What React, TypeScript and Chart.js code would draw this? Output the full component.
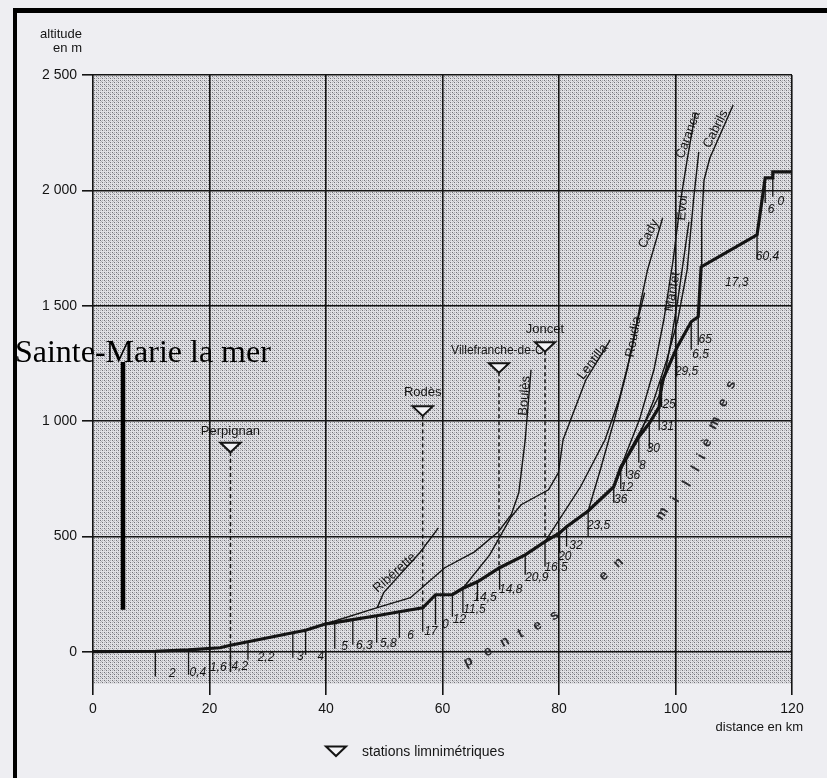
import React, { useEffect, useRef } from "react";
import { Chart, registerables } from "chart.js";

Chart.register(...registerables);

const FONT = "'Liberation Sans', Arial, Helvetica, sans-serif";
const SERIF = "'Liberation Serif', 'Times New Roman', serif";
const INK = "#141414";
const PAPER = "#eeeef2";

// ---- axes ----
const xTicks = [0, 20, 40, 60, 80, 100, 120];
const yTicks = [0, 500, 1000, 1500, 2000, 2500];

// ---- Têt main profile (km from the sea, altitude m) ----
const tetKm = [0, 10.7, 16.4, 21.8, 23.6, 26.6, 34.3, 36.5, 40, 41.5, 44.6, 48.7, 52.6, 56.6, 58.8, 61.7, 63.5, 66, 69.8, 74.2, 77.6, 80.1, 81.3, 85, 89.4, 90.6, 91.6, 93.7, 95.5, 97.2, 97.6, 100.2, 102.7, 103.9, 104.4, 114, 115.4, 116.7, 116.7, 120];
const tetAlt = [0, 2, 8, 17, 28, 43, 82, 93, 121, 126, 139, 156, 173, 190, 247, 247, 275, 303, 364, 420, 477, 515, 542, 610, 715, 800, 840, 931, 990, 1061, 1166, 1317, 1430, 1452, 1668, 1807, 2054, 2054, 2080, 2080];

// ---- tributaries ----
const riberetteKm = [48.8, 49.9, 56.1, 59.3];
const riberetteAlt = [191, 256, 429, 537];
const boulesKm = [40, 48.8, 54.5, 59.4, 60.4, 65.5, 69.6, 71.8, 73.1, 74.2, 75.2];
const boulesAlt = [121, 191, 234, 342, 364, 433, 520, 594, 689, 919, 1222];
const lentillaKm = [63.5, 68.1, 71.8, 73.5, 78.2, 79.9, 80.7, 84.6, 88.8];
const lentillaAlt = [275, 420, 585, 637, 702, 776, 919, 1178, 1352];
const cadyKm = [77.6, 83.7, 87.9, 90.3, 92.5, 94.1, 95.2, 97.8];
const cadyAlt = [477, 715, 919, 1092, 1309, 1525, 1655, 1881];
const roudiaKm = [85, 87.1, 89.5, 91.7, 93.1, 94.7];
const roudiaAlt = [610, 789, 1005, 1222, 1395, 1556];
const mantetKm = [89.4, 92.2, 95.5, 97.7, 99.1, 100.4, 101.5, 102.3];
const mantetAlt = [715, 875, 1027, 1135, 1330, 1525, 1720, 1863];
const evolKm = [93.7, 96.3, 98.5, 100.4, 102.0, 103.1, 104.0];
const evolAlt = [931, 1092, 1265, 1439, 1655, 1959, 2167];
const carancaKm = [90.6, 93.8, 96.3, 98.0, 99.6, 100.9, 102.0, 103.4];
const carancaAlt = [800, 1005, 1222, 1439, 1699, 1959, 2132, 2335];
const cabrilsKm = [104.4, 104.5, 104.9, 105.9, 109.9];
const cabrilsAlt = [1668, 1872, 2045, 2140, 2370];

// ---- segment limits (hanging ticks) ----
const dropKm = [10.7, 16.4, 23.6, 26.6, 34.3, 36.5, 41.5, 44.6, 48.7, 52.6, 56.6, 58.8, 61.7, 63.5, 66, 69.8, 74.2, 77.6, 80.1, 81.3, 85, 89.4, 90.6, 91.6, 93.7, 95.5, 97.2, 97.6, 100.2, 102.7, 103.9, 114, 115.4, 116.7];
const dropTop = [2, 8, 28, 43, 82, 93, 126, 139, 156, 173, 190, 247, 247, 275, 303, 364, 420, 477, 515, 542, 610, 715, 800, 840, 931, 990, 1061, 1166, 1317, 1430, 1452, 1807, 2054, 2080];
const dropBottom = [-108, -100, -87, -35, -26, -13, 13, 30, 39, 61, 87, 117, 152, 169, 225, 269, 334, 368, 429, 455, 498, 646, 705, 760, 819, 880, 960, 1061, 1192, 1309, 1330, 1700, 1945, 1972];

// ---- slopes (per mille) ----
const slopeText = ["2", "0,4", "1,6", "4,2", "2,2", "3", "4", "5", "6,3", "5,8", "6", "17", "0", "12", "11,5", "14,5", "14,8", "20,9", "16,5", "20", "32", "23,5", "36", "12", "36", "8", "30", "31", "25", "29,5", "6,5", "65", "17,3", "60,4", "6", "0"];
const slopeKm = [13.6, 18.0, 21.5, 25.2, 29.7, 35.6, 39.1, 43.2, 46.6, 50.7, 54.5, 58.0, 60.5, 62.9, 65.5, 67.3, 71.7, 76.2, 79.5, 81.0, 82.9, 86.8, 90.6, 91.6, 92.8, 94.3, 96.2, 98.6, 98.9, 101.9, 104.3, 105.1, 110.5, 115.8, 116.4, 118.1];
const slopeAlt = [-95, -91, -70, -65, -26, -20, -22, 22, 26, 35, 69, 87, 117, 139, 182, 234, 269, 321, 364, 412, 459, 546, 658, 710, 763, 805, 880, 975, 1070, 1213, 1287, 1352, 1600, 1711, 1915, 1950];

// ---- gauging stations ----
const stationNames = ["Perpignan", "Rodès", "Villefranche-de-C.", "Joncet"];
const stationKm = [23.6, 56.6, 69.7, 77.6];
const stationAlt = [886, 1044, 1231, 1322];
const stationLabelAlt = [953, 1122, 1304, 1395];
const stationBase = [-87, 190, 364, 477];

// ---- river names ----
const tribNames = ["Ribérette", "Boulès", "Lentilla", "Roudia", "Cady", "Mantet", "Evol", "Caranca", "Cabrils"];
const tribLabelKm = [51.8, 74.1, 85.8, 92.8, 95.4, 99.5, 101.2, 102.2, 106.9];
const tribLabelAlt = [342, 1109, 1257, 1365, 1811, 1560, 1924, 2240, 2266];
const tribLabelAngle = [-42, -85, -52, -80, -63, -80, -85, -70, -63];

// ---- "pentes en millièmes" ----
const penteLetters = ["p", "e", "n", "t", "e", "s", "e", "n", "m", "i", "l", "l", "i", "è", "m", "e", "s"];
const penteKm = [64.4, 67.8, 70.7, 73.4, 76.3, 79.2, 87.7, 90.2, 97.7, 100.0, 102.0, 103.5, 104.5, 105.4, 106.7, 108.2, 109.5];
const penteAlt = [-43, 0, 43, 78, 113, 156, 329, 386, 598, 659, 728, 793, 845, 906, 992, 1079, 1157];
const penteAngle = [-25, -25, -28, -28, -30, -32, -40, -42, -58, -60, -60, -60, -62, -62, -62, -64, -64];

// ---- Sainte-Marie marker ----
const markerText = "Sainte-Marie la mer";
const markerTextKm = -13.4;
const markerTextAlt = 1256;
const markerBarKm = 5.15;
const markerBarTop = 1256;
const markerBarBottom = 182;

const pts = (xs: number[], ys: number[]) => xs.map((x, i) => ({ x, y: ys[i] }));

function makeStipple(ctx: CanvasRenderingContext2D) {
  const c = document.createElement("canvas");
  c.width = 4;
  c.height = 4;
  const g = c.getContext("2d")!;
  g.fillStyle = "#e0e0e4";
  g.fillRect(0, 0, 4, 4);
  g.fillStyle = "#727278";
  g.fillRect(0, 0, 1, 1);
  g.fillRect(2, 2, 1, 1);
  g.fillStyle = "#b2b2b7";
  g.fillRect(2, 0, 1, 1);
  g.fillRect(0, 2, 1, 1);
  g.fillRect(1, 1, 1, 1);
  return ctx.createPattern(c, "repeat");
}

function drawTriangle(ctx: CanvasRenderingContext2D, cx: number, cy: number) {
  ctx.beginPath();
  ctx.moveTo(cx - 10, cy - 4.5);
  ctx.lineTo(cx + 10, cy - 4.5);
  ctx.lineTo(cx, cy + 5);
  ctx.closePath();
  ctx.fillStyle = "#f3f3f6";
  ctx.fill();
  ctx.lineWidth = 2;
  ctx.strokeStyle = INK;
  ctx.stroke();
}

function rotText(ctx: CanvasRenderingContext2D, t: string, x: number, y: number, deg: number) {
  ctx.save();
  ctx.translate(x, y);
  ctx.rotate((deg * Math.PI) / 180);
  ctx.fillText(t, 0, 0);
  ctx.restore();
}

const paperPlugin = {
  id: "paper",
  beforeDraw(chart: any) {
    const { ctx, chartArea: a } = chart;
    ctx.save();
    ctx.fillStyle = PAPER;
    ctx.fillRect(0, 0, chart.width, chart.height);
    const pat = makeStipple(ctx);
    if (pat) {
      ctx.fillStyle = pat;
      ctx.fillRect(a.left, a.top, a.right - a.left, a.bottom - a.top);
    }
    ctx.restore();
  },
  afterDatasetsDraw(chart: any) {
    const { ctx } = chart;
    const xs = chart.scales.x;
    const ys = chart.scales.y;
    const X = (v: number) => xs.getPixelForValue(v);
    const Y = (v: number) => ys.getPixelForValue(v);
    ctx.save();
    ctx.fillStyle = INK;
    ctx.textAlign = "center";
    ctx.textBaseline = "middle";

    // stations
    stationNames.forEach((name, i) => {
      drawTriangle(ctx, X(stationKm[i]), Y(stationAlt[i]));
      ctx.fillStyle = INK;
      ctx.font = `${name.length > 10 ? 12 : 13}px ${FONT}`;
      ctx.fillText(name, X(stationKm[i]), Y(stationLabelAlt[i]));
    });

    // slopes
    ctx.font = `italic 12px ${FONT}`;
    slopeText.forEach((t, i) => ctx.fillText(t, X(slopeKm[i]), Y(slopeAlt[i])));

    // river names
    ctx.font = `13px ${FONT}`;
    tribNames.forEach((t, i) => rotText(ctx, t, X(tribLabelKm[i]), Y(tribLabelAlt[i]), tribLabelAngle[i]));

    // pentes en millièmes
    ctx.font = `bold 14px ${FONT}`;
    ctx.fillStyle = "#2a2a2e";
    penteLetters.forEach((t, i) => rotText(ctx, t, X(penteKm[i]), Y(penteAlt[i]), penteAngle[i]));
    ctx.restore();
  },
  afterDraw(chart: any) {
    const { ctx, chartArea: a } = chart;
    const xs = chart.scales.x;
    const ys = chart.scales.y;
    const X = (v: number) => xs.getPixelForValue(v);
    const Y = (v: number) => ys.getPixelForValue(v);
    ctx.save();
    // axis titles
    ctx.fillStyle = INK;
    ctx.font = `13px ${FONT}`;
    ctx.textAlign = "right";
    ctx.textBaseline = "middle";
    ctx.fillText("altitude", a.left - 11, a.top - 41);
    ctx.fillText("en m", a.left - 11, a.top - 27);
    ctx.fillText("distance en km", a.right + 11, a.bottom + 43);

    // legend
    drawTriangle(ctx, a.left + 243, a.bottom + 67);
    ctx.fillStyle = INK;
    ctx.font = `14px ${FONT}`;
    ctx.textAlign = "left";
    ctx.fillText("stations limnimétriques", a.left + 269, a.bottom + 68);

    // Sainte-Marie marker
    ctx.strokeStyle = "#000";
    ctx.lineWidth = 4.5;
    ctx.beginPath();
    ctx.moveTo(X(markerBarKm), Y(markerBarTop));
    ctx.lineTo(X(markerBarKm), Y(markerBarBottom));
    ctx.stroke();
    ctx.fillStyle = "#000";
    ctx.font = `32px ${SERIF}`;
    ctx.textAlign = "left";
    ctx.textBaseline = "alphabetic";
    ctx.fillText(markerText, X(markerTextKm), Y(markerTextAlt));

    // scan frame
    ctx.fillStyle = "#000";
    ctx.fillRect(13, 8, chart.width - 13, 5);
    ctx.fillRect(13, 8, 4, chart.height - 8);
    ctx.restore();
  },
};

export default function App() {
  const ref = useRef<HTMLCanvasElement>(null);
  useEffect(() => {
    const canvas = ref.current;
    if (!canvas) return;

    const dropData: any[] = [];
    dropKm.forEach((k, i) => {
      dropData.push({ x: k, y: dropTop[i] }, { x: k, y: dropBottom[i] }, { x: k, y: null });
    });
    const dashData: any[] = [];
    stationKm.forEach((k, i) => {
      dashData.push({ x: k, y: stationAlt[i] - 20 }, { x: k, y: stationBase[i] }, { x: k, y: null });
    });

    const thin = (data: any[]) => ({
      data,
      showLine: true,
      borderColor: INK,
      borderWidth: 1.4,
      pointRadius: 0,
      tension: 0,
      spanGaps: false,
    });

    const chart = new Chart(canvas, {
      type: "scatter",
      data: {
        datasets: [
          { ...thin(dropData), borderWidth: 1.3 },
          { ...thin(dashData), borderWidth: 1.5, borderDash: [4, 3] },
          thin(pts(riberetteKm, riberetteAlt)),
          thin(pts(boulesKm, boulesAlt)),
          thin(pts(lentillaKm, lentillaAlt)),
          thin(pts(cadyKm, cadyAlt)),
          thin(pts(roudiaKm, roudiaAlt)),
          thin(pts(mantetKm, mantetAlt)),
          thin(pts(evolKm, evolAlt)),
          thin(pts(carancaKm, carancaAlt)),
          thin(pts(cabrilsKm, cabrilsAlt)),
          { ...thin(pts(tetKm, tetAlt)), borderWidth: 3.2 },
        ] as any,
      },
      options: {
        animation: false,
        responsive: false,
        maintainAspectRatio: false,
        layout: { padding: { left: 0, right: 35, top: 75, bottom: 0 } },
        plugins: { legend: { display: false }, tooltip: { enabled: false } },
        scales: {
          x: {
            type: "linear",
            min: 0,
            max: 120,
            afterBuildTicks: (axis: any) => {
              axis.ticks = xTicks.map((v) => ({ value: v }));
            },
            afterFit: (s: any) => {
              s.height = 94;
            },
            grid: { color: INK, lineWidth: 1.6, tickLength: 11, drawTicks: true },
            border: { display: false },
            ticks: { color: INK, font: { size: 14, family: FONT }, padding: 6, maxRotation: 0 },
          },
          y: {
            type: "linear",
            min: -140,
            max: 2500,
            afterBuildTicks: (axis: any) => {
              axis.ticks = yTicks.map((v) => ({ value: v }));
            },
            afterFit: (s: any) => {
              s.width = 93;
            },
            grid: { color: INK, lineWidth: 1.6, tickLength: 11, drawTicks: true },
            border: { display: false },
            ticks: {
              color: INK,
              font: { size: 14, family: FONT },
              padding: 5,
              callback: (v: any) => {
                const n = Number(v);
                return n >= 1000 ? `${Math.floor(n / 1000)} ${String(n % 1000).padStart(3, "0")}` : String(n);
              },
            },
          },
        },
      } as any,
      plugins: [paperPlugin],
    });
    return () => chart.destroy();
  }, []);

  return (
    <div style={{ position: "absolute", left: 0, top: 0, width: 827, height: 778, background: PAPER }}>
      <canvas ref={ref} width={827} height={778} style={{ display: "block", width: 827, height: 778 }} />
    </div>
  );
}
